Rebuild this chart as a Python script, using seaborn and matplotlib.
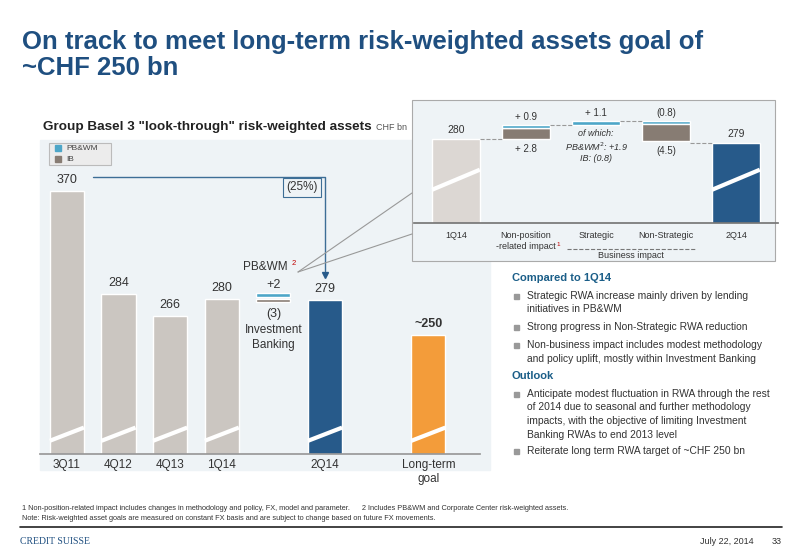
import matplotlib
matplotlib.use("Agg")
import matplotlib.pyplot as plt
import matplotlib.patches as mpatches
import seaborn as sns
import pandas as pd

sns.set_theme(style="white")
plt.rcParams['font.family'] = ['Liberation Sans', 'DejaVu Sans']

# ---- data ----
periods = ["3Q11", "4Q12", "4Q13", "1Q14", "2Q14", "Long-term\ngoal"]
period_pos = [0, 1, 2, 3, 5, 7]
rwa = [370, 284, 266, 280, 279, 250]
rwa_labels = ["370", "284", "266", "280", "279", "~250"]
bar_kind = ["hist", "hist", "hist", "hist", "curr", "goal"]
pbwm_change = 2
ib_change = -3
inset_cats = ["1Q14", "Non-position\n-related impact", "Strategic", "Non-Strategic", "2Q14"]
inset_start = 280
inset_end = 279
nonpos_ib, nonpos_pb = 2.8, 0.9
strat_pb = 1.1
nonstrat_pb, nonstrat_ib = -0.8, -4.5

GRAY = "#cbc6c1"; NAVY = "#275a8a"; ORANGE = "#f39c3a"
PB = "#4da6c8"; IB = "#877c73"; BG = "#eef3f6"; TITLE = "#1f4f80"; TEAL = "#1b5e88"

W, H = 800, 554
fig = plt.figure(figsize=(8, 5.54), dpi=100)
fig.patch.set_facecolor("white")

def fx(px): return px / W
def fy(py): return 1 - py / H

# background panel
fig.add_artist(mpatches.Rectangle((fx(40), fy(470)), fx(450), (470-140)/H,
                                  transform=fig.transFigure, color=BG, zorder=-2))

# ---- main chart ----
ax = fig.add_axes([fx(40), fy(454), fx(440), (454-140)/H])
ax.set_facecolor("none")
df = pd.DataFrame({"pos": period_pos, "rwa": rwa, "kind": bar_kind})
sns.barplot(data=df, x="pos", y="rwa", hue="kind", native_scale=True,
            palette={"hist": GRAY, "curr": NAVY, "goal": ORANGE},
            width=0.66, legend=False, ax=ax, saturation=1)
ymin = 151
ax.set_ylim(ymin, 412.5)
ax.set_xlim(-0.52, 8.0)
for s in ["top", "right", "left"]:
    ax.spines[s].set_visible(False)
ax.spines["bottom"].set_color("#999999")
ax.set_yticks([]); ax.set_xticks([])
ax.set_xlabel(""); ax.set_ylabel("")
for p, v, lab in zip(period_pos, rwa, rwa_labels):
    ax.text(p, v + 4, lab, ha="center", va="bottom", fontsize=9,
            color="#333333", fontweight="bold" if lab.startswith("~") else "normal")
    ax.plot([p-0.33, p+0.33], [ymin+11, ymin+22], color="white", lw=3, solid_capstyle="butt")
for p, lab in zip(period_pos, periods):
    ax.text(p, ymin-4, lab, ha="center", va="top", fontsize=8.5, color="#333333")
# small PB&WM / IB change bar
ax.bar(4, 3, bottom=282, width=0.66, color=PB)
ax.bar(4, 3, bottom=277.5, width=0.66, color=IB)
ax.text(4, 287, f"+{pbwm_change}", ha="center", va="bottom", fontsize=9, color="#333")
ax.text(4, 273, f"({-ib_change})", ha="center", va="top", fontsize=9, color="#333")
ax.text(4, 259, "Investment\nBanking", ha="center", va="top", fontsize=8.5, color="#333", linespacing=1.25)
ax.text(3.85, 302, "PB&WM", ha="center", va="bottom", fontsize=8.5, color="#333")
ax.text(4.35, 307, "2", ha="left", va="bottom", fontsize=5.5, color="#c00000")
# bracket
ax.plot([0.5, 5, 5], [382, 382, 303], color="#3d6e96", lw=1)
ax.plot(5, 300, marker="v", color=NAVY, ms=5)
ax.text(4.55, 373, "(25%)", ha="center", va="center", fontsize=8.5, color="#333",
        bbox=dict(boxstyle="square,pad=0.3", fc=BG, ec="#3d6e96", lw=0.8))

# subtitle & legend
fig.text(fx(43), fy(127), 'Group Basel 3 "look-through" risk-weighted assets', fontsize=9.7,
         fontweight="bold", color="#222", va="center")
fig.text(fx(376), fy(127), "CHF bn", fontsize=6.5, color="#555", va="center")
fig.add_artist(mpatches.Rectangle((fx(49), fy(165)), fx(62), 22/H, transform=fig.transFigure,
                                  fc="#ececec", ec="#bbbbbb", lw=0.8))
for yy, c, t in [(148, PB, "PB&WM"), (159, IB, "IB")]:
    fig.add_artist(mpatches.Rectangle((fx(55), fy(yy+3)), fx(6), 6/H, transform=fig.transFigure, color=c))
    fig.text(fx(66), fy(yy), t, fontsize=6, color="#444", va="center")

# title
fig.text(fx(22), fy(55), "On track to meet long-term risk-weighted assets goal of\n~CHF 250 bn",
         fontsize=18.5, fontweight="bold", color=TITLE, va="center", linespacing=1.1)

# callout lines
for ty in [193, 234]:
    fig.add_artist(plt.Line2D([fx(298), fx(412)], [fy(272), fy(ty)], transform=fig.transFigure,
                              color="#999", lw=0.8))

# ---- inset ----
fig.add_artist(mpatches.Rectangle((fx(412), fy(261)), fx(363), (261-100)/H, transform=fig.transFigure,
                                  fc=BG, ec="#aaaaaa", lw=0.8, zorder=-1))
ia = fig.add_axes([fx(414), fy(222.7), fx(364), 122.7/H])
ia.set_facecolor("none")
ib_ymin = 258
u = 1 / 3.8  # data units per pixel
bw = 0.68
idf = pd.DataFrame({"cat": [inset_cats[0], inset_cats[4]], "v": [inset_start, inset_end], "k": ["a", "b"]})
sns.barplot(data=idf, x="cat", y="v", hue="k", order=inset_cats, palette={"a": "#dcd7d3", "b": NAVY},
            width=bw, legend=False, ax=ia, saturation=1, dodge=False)
ia.set_ylim(ib_ymin, 290.3); ia.set_xlim(-0.6, 4.6)
for s in ["top", "right", "left"]:
    ia.spines[s].set_visible(False)
ia.spines["bottom"].set_color("#777")
ia.set_xticks([]); ia.set_yticks([])
ia.set_xlabel(""); ia.set_ylabel("")
for p in [0, 4]:
    ia.plot([p-bw/2, p+bw/2], [ib_ymin+33*u, ib_ymin+53*u], color="white", lw=3, solid_capstyle="butt")
lvl1 = inset_start + nonpos_ib
lvl2 = lvl1 + nonpos_pb
lvl3 = lvl2 + strat_pb
lvl4 = lvl3 + nonstrat_pb
ia.bar(1, nonpos_ib, bottom=inset_start, width=bw, color=IB)
ia.bar(1, nonpos_pb, bottom=lvl1, width=bw, color=PB)
ia.bar(2, strat_pb, bottom=lvl2, width=bw, color=PB)
ia.bar(3, nonstrat_pb, bottom=lvl3, width=bw, color=PB)
ia.bar(3, nonstrat_ib, bottom=lvl4, width=bw, color=IB)
for x0, y0 in [(0, inset_start), (1, lvl2), (2, lvl3), (3, inset_end)]:
    ia.plot([x0+bw/2, x0+1-bw/2], [y0, y0], color="#999", ls="--", lw=0.8)
tc = "#333"
ia.text(0, inset_start+4*u, "280", ha="center", va="bottom", fontsize=7.5, color=tc)
ia.text(4, inset_end+4*u, "279", ha="center", va="bottom", fontsize=7.5, color=tc)
ia.text(1, lvl2+3*u, f"+ {nonpos_pb}", ha="center", va="bottom", fontsize=7, color=tc)
ia.text(1, inset_start-5*u, f"+ {nonpos_ib}", ha="center", va="top", fontsize=7, color=tc)
ia.text(2, lvl3+3*u, f"+ {strat_pb}", ha="center", va="bottom", fontsize=7, color=tc)
ia.text(3, lvl3+3*u, f"({-nonstrat_pb})", ha="center", va="bottom", fontsize=7, color=tc)
ia.text(3, lvl4+nonstrat_ib-5*u, f"({-nonstrat_ib})", ha="center", va="top", fontsize=7, color=tc)
ia.text(2, lvl2-4*u, "of which:\nPB&WM$^{2}$: +1.9\nIB: (0.8)", ha="center", va="top", fontsize=6.5,
        style="italic", color=tc, linespacing=1.2)
for i, lab in enumerate(inset_cats):
    ia.text(i, ib_ymin-8*u, lab, ha="center", va="top", fontsize=6.5, color=tc, linespacing=1.3)
ia.text(1.43, ib_ymin-19*u, "1", fontsize=4.5, color="#c00000", va="top")
ia.plot([1.58, 3.42], [ib_ymin-26*u, ib_ymin-26*u], color="#777", ls="--", lw=0.8, clip_on=False)
ia.text(2.5, ib_ymin-28*u, "Business impact", ha="center", va="top", fontsize=6.5, color=tc)

# ---- right text ----
def bullet(y, lines):
    fig.add_artist(mpatches.Rectangle((fx(514), fy(y+2.5)), fx(5), 5/H, transform=fig.transFigure, color="#999"))
    for k, ln in enumerate(lines):
        fig.text(fx(527), fy(y + 13.5*k), ln, fontsize=7.4, color="#333", va="center")
fig.text(fx(512), fy(278), "Compared to 1Q14", fontsize=8, fontweight="bold", color=TEAL, va="center")
bullet(296, ["Strategic RWA increase mainly driven by lending", "initiatives in PB&WM"])
bullet(327, ["Strong progress in Non-Strategic RWA reduction"])
bullet(345, ["Non-business impact includes modest methodology", "and policy uplift, mostly within Investment Banking"])
fig.text(fx(512), fy(376), "Outlook", fontsize=8, fontweight="bold", color=TEAL, va="center")
bullet(394, ["Anticipate modest fluctuation in RWA through the rest", "of 2014 due to seasonal and further methodology",
             "impacts, with the objective of limiting Investment", "Banking RWAs to end 2013 level"])
bullet(451, ["Reiterate long term RWA target of ~CHF 250 bn"])

# ---- footer ----
fig.text(fx(22), fy(508), "1 Non-position-related impact includes changes in methodology and policy, FX, model and parameter.      "
         "2 Includes PB&WM and Corporate Center risk-weighted assets.", fontsize=5.3, color="#333", va="center")
fig.text(fx(22), fy(518), "Note: Risk-weighted asset goals are measured on constant FX basis and are subject to change based on future FX movements.",
         fontsize=5.3, color="#333", va="center")
fig.add_artist(plt.Line2D([fx(20), fx(782)], [fy(527), fy(527)], transform=fig.transFigure, color="#222", lw=1.2))
fig.text(fx(20), fy(542), "CREDIT SUISSE", fontsize=7, color="#1f4f80", va="center", family="Liberation Serif")
fig.text(fx(700), fy(541), "July 22, 2014", fontsize=6.5, color="#333", va="center")
fig.text(fx(772), fy(541), "33", fontsize=6.5, color="#333", va="center")

fig.savefig("out.png", dpi=100)
